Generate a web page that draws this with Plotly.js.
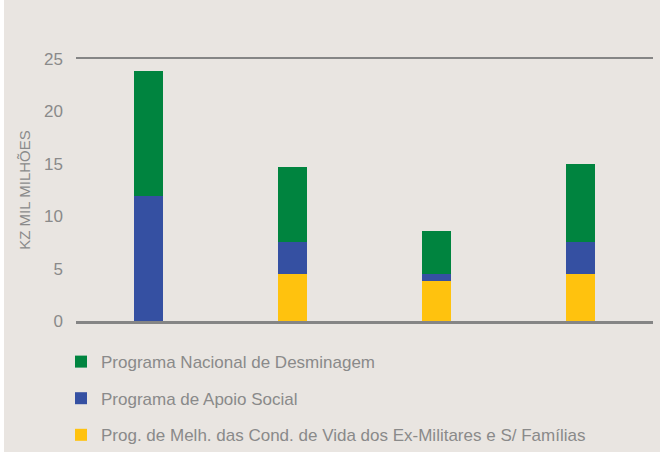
<!DOCTYPE html>
<html>
<head>
<meta charset="utf-8">
<script src="https://cdn.plot.ly/plotly-3.0.1.min.js"></script>
<style>
  html, body { margin: 0; padding: 0; background: #e9e5e1; }
  #chart { width: 660px; height: 452px; }
</style>
</head>
<body>
<div id="chart"></div>
<script>
// Data (KZ mil milhões)
const categories = ["A", "B", "C", "D"];
const seriesNames = [
  "Prog. de Melh. das Cond. de Vida dos Ex-Militares e S/ Famílias",
  "Programa de Apoio Social",
  "Programa Nacional de Desminagem"
];
const exMilitares = [0, 4.46, 3.79, 4.46];
const apoioSocial = [11.94, 3.09, 0.70, 3.09];
const desminagem = [11.96, 7.13, 4.08, 7.42];
const seriesColors = ["#ffc20e", "#3550a2", "#00843f"];
const legendRanks = [3, 2, 1];
const yTicks = [0, 5, 10, 15, 20, 25];

const font = "'Liberation Sans', Arial, sans-serif";
const gray = "#8a8a8a";

const values = [exMilitares, apoioSocial, desminagem];
const traces = values.map((v, i) => ({
  type: "bar",
  x: categories,
  y: v,
  name: seriesNames[i],
  legendgroup: "g" + i,
  legendrank: legendRanks[i],
  marker: { color: seriesColors[i], line: { width: 0 } },
  hoverinfo: "name+y"
}));

const layout = {
  width: 660,
  height: 452,
  paper_bgcolor: "#e9e5e1",
  plot_bgcolor: "#e9e5e1",
  margin: { l: 76, r: 7, t: 59, b: 131, autoexpand: false },
  barmode: "stack",
  bargap: 0.8,
  showlegend: true,
  legend: {
    orientation: "v",
    traceorder: "grouped",
    tracegroupgap: 11.5,
    x: -0.026,
    xanchor: "left",
    y: -0.088,
    yanchor: "top",
    bgcolor: "rgba(0,0,0,0)",
    font: { family: font, size: 17, color: gray }
  },
  xaxis: {
    showticklabels: false,
    ticks: "",
    showgrid: false,
    zeroline: false,
    showline: true,
    mirror: true,
    linecolor: "#858585",
    linewidth: 2.5,
    fixedrange: true
  },
  yaxis: {
    range: [0, 25],
    tickvals: yTicks,
    ticktext: yTicks.map(String),
    showgrid: false,
    zeroline: false,
    showline: false,
    ticks: "",
    ticklabelstandoff: 12,
    tickfont: { family: font, size: 17, color: gray },
    title: {
      text: "KZ MIL MILHÕES",
      font: { family: font, size: 15, color: gray },
      standoff: 9
    },
    fixedrange: true
  },
  shapes: [
    {
      type: "rect", xref: "paper", yref: "paper", layer: "below",
      x0: -76 / 577, x1: -72 / 577, y0: -0.5, y1: 1.23,
      fillcolor: "#ffffff", line: { width: 0 }
    }
  ]
};

Plotly.newPlot("chart", traces, layout, { displayModeBar: false, staticPlot: true });
</script>
</body>
</html>
